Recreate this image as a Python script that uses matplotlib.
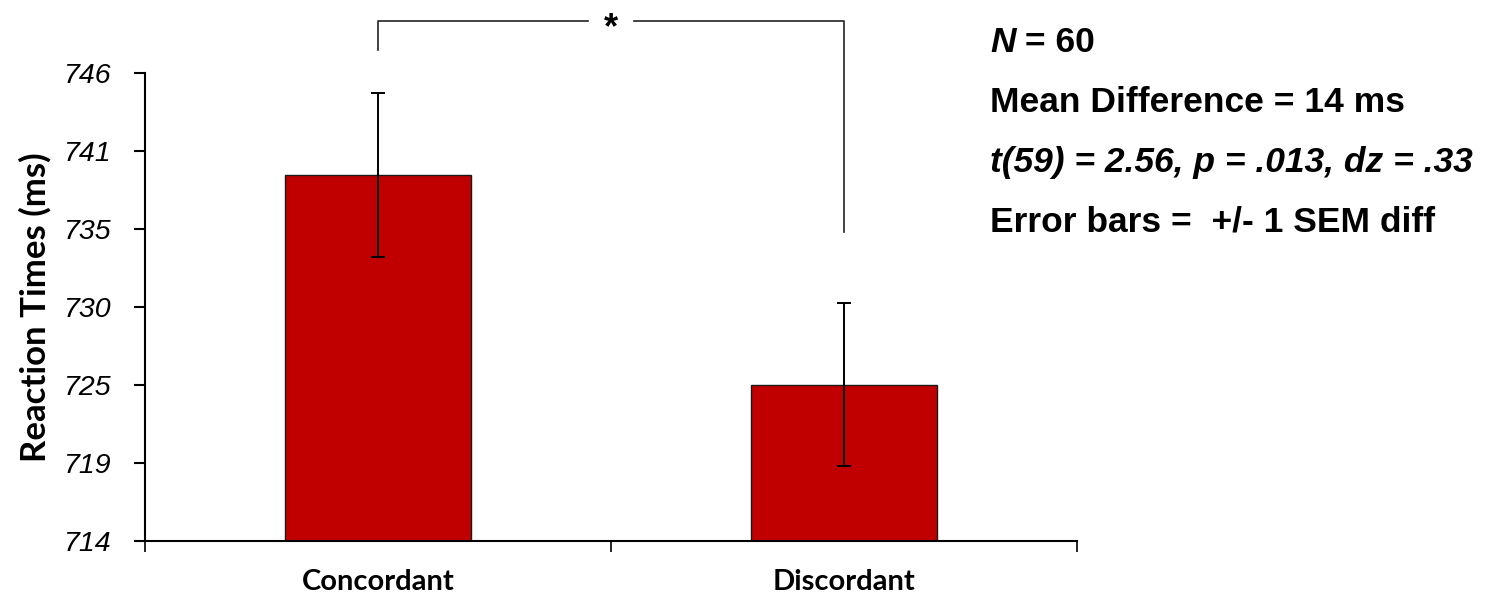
import matplotlib
matplotlib.use('Agg')
import matplotlib.pyplot as plt
import numpy as np

# data
conditions = ['Concordant', 'Discordant']
mean_rt = [739.0, 724.7]
sem_diff = [5.6, 5.6]
y_ticks = np.linspace(714, 746, 7)
y_tick_labels = ['714', '719', '725', '730', '735', '741', '746']
stats_lines = ['Mean Difference = 14 ms',
               't(59) = 2.56, p = .013, dz = .33',
               'Error bars =  +/- 1 SEM diff']

bar_color = '#C00000'
arial = 'Liberation Sans'
calibri = 'Lato'

fig = plt.figure(figsize=(15.06, 5.95), dpi=100)
ax = fig.add_axes([145 / 1506, 54 / 595, 932 / 1506, 468 / 595])

x = np.arange(len(conditions))
ax.bar(x, mean_rt, width=0.4, color=bar_color, edgecolor='#1a1a1a', linewidth=1.0, zorder=2)
ax.errorbar(x, mean_rt, yerr=sem_diff, fmt='none', ecolor='black',
            elinewidth=1.4, capsize=5, capthick=1.4, zorder=3)

ax.set_xlim(-0.5, 1.5)
ax.set_ylim(714, 746)
ax.set_yticks(y_ticks)
ax.set_yticklabels(y_tick_labels, fontfamily=arial, fontstyle='italic', fontsize=20.5)
ax.tick_params(axis='y', direction='out', length=8, width=1.5, pad=17)

# category labels between boundary ticks, Excel style
ax.set_xticks([-0.5, 0.5, 1.5])
ax.set_xticklabels([])
ax.tick_params(axis='x', direction='out', length=8, width=1.2)
ax.set_xticks(x, minor=True)
ax.set_xticklabels(conditions, minor=True, fontfamily=calibri, fontweight='bold', fontsize=21)
ax.tick_params(axis='x', which='minor', length=0, pad=20)

for side in ['top', 'right']:
    ax.spines[side].set_visible(False)
for side in ['left', 'bottom']:
    ax.spines[side].set_linewidth(1.5)

ax.set_ylabel('Reaction Times (ms)', fontfamily=calibri, fontweight='bold', fontsize=25, labelpad=8)

# significance bracket
top, left_foot, right_foot = 749.55, 747.6, 735.15
gap = 0.05
ax.plot([0, 0, 0.5 - gap], [left_foot, top, top], color='#222222', lw=1.2, clip_on=False)
ax.plot([0.5 + gap, 1, 1], [top, top, right_foot], color='#222222', lw=1.2, clip_on=False)
ax.text(0.5, top - 0.55, '*', ha='center', va='center', fontsize=26, fontfamily=arial,
        fontweight='bold', clip_on=False)

# stats text on the right
tx = 990 / 1506
n_txt = fig.text(tx, 1 - 52 / 595, 'N', fontfamily=arial, fontsize=25.5,
                 fontweight='bold', fontstyle='italic', va='baseline')
fig.canvas.draw()
bb = n_txt.get_window_extent()
fig.text(bb.x1 / fig.bbox.width, 1 - 52 / 595, ' = 60', fontfamily=arial, fontsize=25.5,
         fontweight='bold', va='baseline')
styles = ['normal', 'italic', 'normal']
for i, (line, st) in enumerate(zip(stats_lines, styles)):
    fig.text(tx, 1 - (112 + 60 * i) / 595, line, fontfamily=arial, fontsize=25.5,
             fontweight='bold', fontstyle=st, va='baseline')

plt.savefig('out.png', dpi=100)
plt.close()
